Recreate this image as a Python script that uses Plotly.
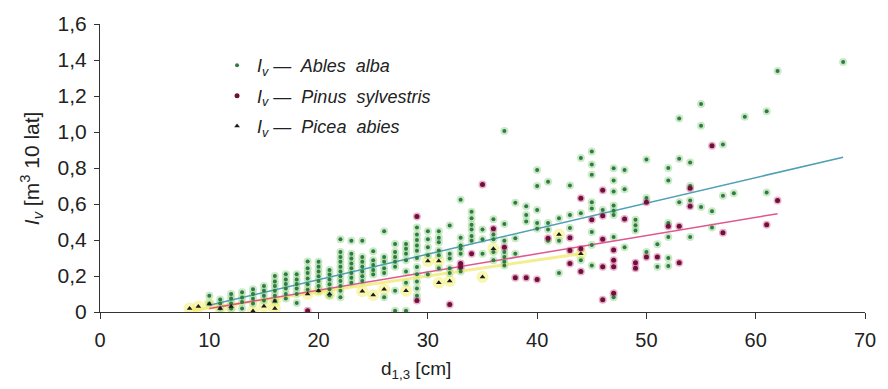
import plotly.graph_objects as go

# ---------------- data ----------------
abies_d = [
    10, 10,
    11, 11, 11,
    12, 12, 12, 12,
    13, 13, 13, 13,
    14, 14, 14, 14,
    15, 15, 15, 15,
    16, 16, 16, 16, 16, 16,
    17, 17, 17, 17, 17, 17,
    18, 18, 18, 18, 18, 18,
    19, 19, 19, 19, 19, 19,
    20, 20, 20, 20, 20, 20, 20,
    21, 21, 21, 21, 21, 21,
    22, 22, 22, 22, 22, 22, 22, 22, 22, 22, 22,
    23, 23, 23, 23, 23, 23, 23, 23,
    24, 24, 24, 24, 24, 24, 24,
    25, 25, 25, 25, 25,
    26, 26, 26, 26, 26, 26,
    27, 27, 27, 27, 27, 27, 27,
    28, 28, 28, 28, 28, 28, 28,
    29, 29, 29, 29, 29, 29, 29, 29, 29, 29, 29,
    30, 30, 30, 30, 30,
    31, 31, 31, 31, 31, 31,
    32, 32, 32, 32, 32,
    33, 33, 33, 33, 33, 33, 33,
    34, 34, 34, 34, 34, 34,
    35, 35, 35,
    36, 36, 36, 36, 36,
    37, 37, 37, 37, 37, 37, 37,
    38, 38, 38,
    39, 39, 39,
    40, 40, 40, 40, 40,
    41, 41, 41, 41,
    42, 42, 42,
    43, 43, 43,
    44, 44, 44,
    45, 45, 45, 45, 45, 45, 45, 45,
    46,
    47, 47, 47, 47, 47, 47, 47, 47,
    48, 48, 48,
    49, 49, 49,
    50, 50, 50,
    51, 51,
    52, 52, 52, 52, 52, 52,
    53, 53, 53,
    54, 54, 54, 54,
    55, 55, 55,
    56, 56,
    57, 57,
    58,
    59,
    61, 61,
    62,
    68,
]
abies_iv = [
    0.09, 0.047,
    0.07, 0.047, 0.02,
    0.10, 0.075, 0.047, 0.02,
    0.11, 0.08, 0.055, 0.02,
    0.127, 0.10, 0.074, 0.047,
    0.145, 0.118, 0.09, 0.064,
    0.20, 0.17, 0.145, 0.118, 0.09, 0.064,
    0.21, 0.18, 0.155, 0.13, 0.10, 0.075,
    0.21, 0.18, 0.155, 0.13, 0.10, 0.05,
    0.28, 0.243, 0.217, 0.186, 0.154, 0.123,
    0.279, 0.252, 0.225, 0.199, 0.172, 0.145, 0.118,
    0.234, 0.208, 0.181, 0.154, 0.127, 0.091,
    0.404, 0.333, 0.306, 0.279, 0.252, 0.225, 0.199, 0.172, 0.145, 0.118, 0.082,
    0.396, 0.324, 0.297, 0.27, 0.243, 0.217, 0.19, 0.163,
    0.396, 0.306, 0.279, 0.252, 0.225, 0.199, 0.172,
    0.338, 0.288, 0.261, 0.234, 0.208,
    0.449, 0.306, 0.279, 0.243, 0.217, 0.082,
    0.378, 0.333, 0.306, 0.279, 0.252, 0.118, 0.007,
    0.378, 0.351, 0.324, 0.288, 0.225, 0.163, 0.007,
    0.47, 0.43, 0.40, 0.37, 0.34, 0.30, 0.25, 0.21, 0.17, 0.13, 0.09,
    0.449, 0.404, 0.36, 0.315, 0.208,
    0.449, 0.413, 0.387, 0.342, 0.315, 0.243,
    0.48, 0.324, 0.297, 0.243, 0.217,
    0.623, 0.413, 0.369, 0.351, 0.324, 0.243, 0.225,
    0.557, 0.521, 0.485, 0.458, 0.422, 0.396,
    0.458, 0.404, 0.324,
    0.515, 0.431, 0.404, 0.333, 0.288,
    1.006, 0.489, 0.396, 0.333, 0.306, 0.279, 0.258,
    0.607, 0.41, 0.324,
    0.587, 0.539, 0.503,
    0.789, 0.70, 0.566, 0.494, 0.462,
    0.723, 0.494, 0.458, 0.396,
    0.521, 0.396, 0.217,
    0.703, 0.539, 0.467,
    0.855, 0.548, 0.288,
    0.891, 0.82, 0.762, 0.61, 0.575, 0.444, 0.372, 0.258,
    0.566,
    0.798, 0.73, 0.669, 0.592, 0.562, 0.539, 0.417, 0.082,
    0.789, 0.682, 0.36,
    0.512, 0.482, 0.453,
    0.847, 0.634, 0.333,
    0.377, 0.252,
    0.80, 0.73, 0.494, 0.417, 0.30, 0.256,
    1.075, 0.852, 0.61,
    0.83, 0.70, 0.62, 0.417,
    1.156, 1.035, 0.584,
    0.56, 0.47,
    0.93, 0.646,
    0.66,
    1.085,
    1.115, 0.664,
    1.339,
    1.389,
]

pinus_d = [19, 29, 29, 32, 33, 33, 34, 35, 36, 37, 38, 39, 40, 41, 43, 43, 43,
           44, 44, 44, 45, 46, 46, 46, 46, 46, 47, 47, 47, 47, 48, 49, 49, 50,
           50, 51, 52, 53, 53, 54, 54, 56, 57, 61, 62]
pinus_iv = [0.007, 0.53, 0.064, 0.041, 0.27, 0.25, 0.324, 0.709, 0.463, 0.36,
            0.19, 0.19, 0.181, 0.41, 0.413, 0.342, 0.27, 0.632, 0.351, 0.225,
            0.512, 0.677, 0.535, 0.404, 0.252, 0.068, 0.345, 0.288, 0.252,
            0.104, 0.517, 0.274, 0.243, 0.61, 0.306, 0.306, 0.476, 0.476,
            0.274, 0.687, 0.587, 0.923, 0.44, 0.485, 0.62]

picea_d = [8.2, 9, 10, 11, 12, 14, 15, 16, 16, 19, 20, 21, 24, 25, 26, 28, 30,
           31, 31, 32, 35, 36, 42, 44]
picea_iv = [0.02, 0.03, 0.045, 0.02, 0.03, 0.005, 0.032, 0.02, 0.06, 0.10,
            0.118, 0.10, 0.115, 0.095, 0.127, 0.118, 0.283, 0.283, 0.163,
            0.172, 0.195, 0.351, 0.431, 0.324]

# fitted trend lines (end points)
abies_line_d = [10, 68]
abies_line_iv = [0.038, 0.86]
pinus_line_d = [10, 62]
pinus_line_iv = [0.02, 0.546]
picea_line_d = [8.5, 44]
picea_line_iv = [0.01, 0.324]

y_tickvals = [0, 0.2, 0.4, 0.6, 0.8, 1.0, 1.2, 1.4, 1.6]
y_ticktext = ["0", "0,2", "0,4", "0,6", "0,8", "1,0", "1,2", "1,4", "1,6"]
x_tickvals = [0, 10, 20, 30, 40, 50, 60, 70]

names = ["<i>I<sub>v</sub> —  Ables  alba</i>",
         "<i>I<sub>v</sub> —  Pinus  sylvestris</i>",
         "<i>I<sub>v</sub> —  Picea  abies</i>"]

FONT = "Liberation Sans, Arial, sans-serif"
TXT = "#222222"

fig = go.Figure()

# halos
fig.add_trace(go.Scatter(x=picea_d, y=picea_iv, mode="markers", showlegend=False,
                         hoverinfo="skip",
                         marker=dict(size=12, color="rgba(242,238,100,0.5)")))
fig.add_trace(go.Scatter(x=abies_d, y=abies_iv, mode="markers", showlegend=False,
                         hoverinfo="skip",
                         marker=dict(size=8, color="rgba(150,212,140,0.5)")))
fig.add_trace(go.Scatter(x=pinus_d, y=pinus_iv, mode="markers", showlegend=False,
                         hoverinfo="skip",
                         marker=dict(size=8, color="rgba(215,100,150,0.5)")))

# trend lines
fig.add_trace(go.Scatter(x=picea_line_d, y=picea_line_iv, mode="lines", showlegend=False,
                         line=dict(color="rgba(240,232,110,0.75)", width=3)))
fig.add_trace(go.Scatter(x=pinus_line_d, y=pinus_line_iv, mode="lines", showlegend=False,
                         line=dict(color="#e0578f", width=1.5)))
fig.add_trace(go.Scatter(x=abies_line_d, y=abies_line_iv, mode="lines", showlegend=False,
                         line=dict(color="#4f9fb5", width=1.5)))

# cores (legend entries)
fig.add_trace(go.Scatter(x=abies_d, y=abies_iv, mode="markers", name=names[0],
                         legendgroup="a", legendrank=1,
                         marker=dict(size=4, color="#2f7a45")))
fig.add_trace(go.Scatter(x=pinus_d, y=pinus_iv, mode="markers", name=names[1],
                         legendgroup="p", legendrank=2,
                         marker=dict(size=5, color="#6e0f3c")))
fig.add_trace(go.Scatter(x=picea_d, y=picea_iv, mode="markers", name=names[2],
                         legendgroup="c", legendrank=3,
                         marker=dict(size=5, symbol="triangle-up", color="#1a1a1a")))

fig.update_layout(
    width=888, height=389,
    margin=dict(l=100, r=15, t=14, b=77),
    paper_bgcolor="white", plot_bgcolor="white",
    font=dict(family=FONT, color=TXT),
    showlegend=True,
    legend=dict(x=0.153, y=0.92, xanchor="left", yanchor="top",
                bgcolor="rgba(255,255,255,0.9)", borderwidth=0,
                font=dict(size=18, color=TXT, family=FONT),
                tracegroupgap=4, itemwidth=30),
    xaxis=dict(range=[0, 70], tickvals=x_tickvals, ticks="outside", ticklen=6,
               tickcolor="#333", showline=True, linecolor="#333", linewidth=1,
               showgrid=False, zeroline=False, ticklabelstandoff=4,
               tickfont=dict(size=20, color=TXT, family=FONT)),
    yaxis=dict(range=[0, 1.6], tickvals=y_tickvals, ticktext=y_ticktext,
               ticks="outside", ticklen=5, tickcolor="#333", showline=True,
               linecolor="#333", linewidth=1, showgrid=False, zeroline=False,
               ticklabelstandoff=3,
               tickfont=dict(size=21, color=TXT, family=FONT)),
    annotations=[
        dict(text="d<sub>1,3</sub> [cm]", xref="paper", yref="paper",
             x=0.413, y=-0.2, xanchor="center", yanchor="middle",
             showarrow=False, font=dict(size=19, color=TXT, family=FONT)),
        dict(text="<i>I<sub>v</sub></i> [m<sup>3</sup> 10 lat]", xref="paper", yref="paper",
             x=-0.09, y=0.5, xanchor="center", yanchor="middle", textangle=-90,
             showarrow=False, font=dict(size=21, color=TXT, family=FONT)),
    ],
)

fig.write_html("out.html")
